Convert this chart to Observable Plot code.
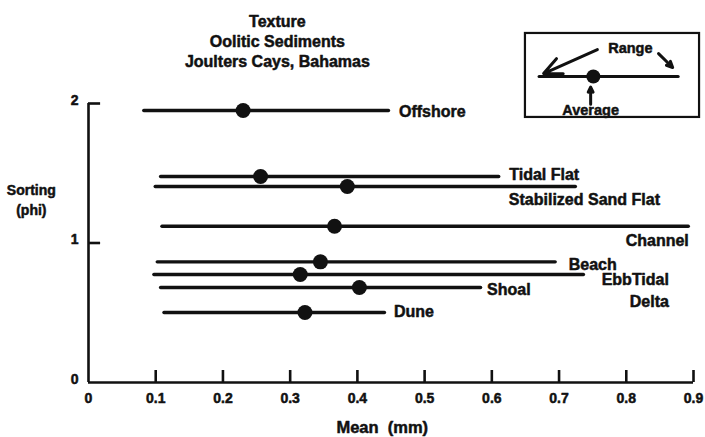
<!DOCTYPE html>
<html>
<head>
<meta charset="utf-8">
<script src="https://cdn.jsdelivr.net/npm/d3@7"></script>
<script src="https://cdn.jsdelivr.net/npm/@observablehq/plot@0.6"></script>
<style>
  html, body { margin: 0; padding: 0; background: #fff; }
</style>
</head>
<body>
<div id="chart"></div>
<script>
// ---- data ----
const sites    = ["Offshore", "Tidal Flat", "Stabilized Sand Flat", "Channel", "Beach", "EbbTidal\nDelta", "Shoal", "Dune"];
const sorting  = [1.95, 1.477, 1.405, 1.12, 0.865, 0.774, 0.681, 0.502];
const meanMin  = [0.083, 0.108, 0.100, 0.110, 0.103, 0.098, 0.108, 0.113];
const meanMax  = [0.447, 0.611, 0.725, 0.893, 0.695, 0.737, 0.584, 0.441];
const meanAvg  = [0.230, 0.256, 0.385, 0.366, 0.345, 0.315, 0.403, 0.322];

const xTicks = [0, 0.1, 0.2, 0.3, 0.4, 0.5, 0.6, 0.7, 0.8, 0.9];
const xTickLabels = ["0", "0.1", "0.2", "0.3", "0.4", "0.5", "0.6", "0.7", "0.8", "0.9"];
const yTicks = [0, 1, 2];
const yTickLabels = ["0", "1", "2"];

const titleText = "Texture\nOolitic Sediments\nJoulters Cays, Bahamas";
const xLabel = "Mean\u00a0 (mm)";
const yLabel = "Sorting\n(phi)";

// ---- label placement (style, per site) ----
const labelStyle = [
  {dx: 10, dy: -1, anchor: "start"},
  {dx: 10, dy: -4, anchor: "start"},
  {dx: -67, dy: 11, anchor: "start"},
  {dx: 0, dy: 13, anchor: "end"},
  {dx: 13, dy: 1, anchor: "start"},
  {dx: 85, dy: 14, anchor: "end"},
  {dx: 6, dy: 0, anchor: "start"},
  {dx: 9, dy: -3, anchor: "start"}
];

const rows = sites.map((s, i) => ({
  site: s, sorting: sorting[i], min: meanMin[i], max: meanMax[i], avg: meanAvg[i], ...labelStyle[i]
}));

const font = "'Liberation Sans', Arial, Helvetica, sans-serif";
const ink = "#111";
const heavy = {fontWeight: "bold", fill: ink, stroke: ink, strokeWidth: 0.5};

const labelMarks = rows.map(r => Plot.text([r], {
  x: "max", y: "sorting", text: "site",
  dx: r.dx, dy: r.dy, textAnchor: r.anchor,
  fontSize: 16, lineHeight: 1.38, ...heavy
}));

const chart = Plot.plot({
  width: 705,
  height: 437,
  marginLeft: 88,
  marginRight: 12,
  marginTop: 103,
  marginBottom: 55,
  x: {domain: [0, 0.9], axis: null},
  y: {domain: [0, 2], axis: null},
  style: {fontFamily: font, fontWeight: "bold", background: "#fff", color: ink},
  marks: [
    // axes
    Plot.ruleX([0], {y1: 0, y2: 2, stroke: ink, strokeWidth: 2.6}),
    Plot.ruleY([0], {x1: 0, x2: 0.9, stroke: ink, strokeWidth: 2.6}),
    Plot.ruleX(xTicks.slice(1), {x: d => d, y1: 0, y2: 0.086, stroke: ink, strokeWidth: 2.6}),
    Plot.ruleY(yTicks.slice(1), {y: d => d, x1: 0, x2: 0.018, stroke: ink, strokeWidth: 2.6}),
    Plot.text(xTicks, {x: d => d, y: 0, dy: 16, text: (d, i) => xTickLabels[i], fontSize: 14, ...heavy}),
    Plot.text(yTicks, {x: 0, y: d => d, dx: -10, dy: -3, text: (d, i) => yTickLabels[i], textAnchor: "end", fontSize: 14, ...heavy}),
    // axis titles and chart title
    Plot.text([xLabel], {x: 0.437, y: -0.323, text: d => d, fontSize: 16.5, ...heavy}),
    Plot.text([yLabel], {x: -0.085, y: 1.32, text: d => d, fontSize: 14, lineHeight: 1.43, ...heavy}),
    Plot.text([titleText], {x: 0.281, y: 2.452, text: d => d, fontSize: 16, lineHeight: 1.25, ...heavy}),
    // range lines and averages
    Plot.ruleY(rows, {y: "sorting", x1: "min", x2: "max", stroke: ink, strokeWidth: 3.4, strokeLinecap: "round"}),
    Plot.dot(rows, {x: "avg", y: "sorting", r: 7.5, fill: ink, stroke: "none"}),
    ...labelMarks,
    // key box
    Plot.rect([0], {x1: 0.650, x2: 0.909, y1: 1.90, y2: 2.502, fill: "none", stroke: ink, strokeWidth: 2.2}),
    Plot.ruleY([0], {y: 2.194, x1: 0.671, x2: 0.878, stroke: ink, strokeWidth: 3, strokeLinecap: "round"}),
    Plot.dot([0], {x: 0.751, y: 2.194, r: 7, fill: ink}),
    Plot.arrow([0], {x1: 0.757, y1: 2.387, x2: 0.677, y2: 2.215, stroke: ink, strokeWidth: 3, headLength: 11, headAngle: 50}),
    Plot.arrow([0], {x1: 0.848, y1: 2.358, x2: 0.869, y2: 2.258, stroke: ink, strokeWidth: 3, headLength: 10, headAngle: 50}),
    Plot.arrow([0], {x1: 0.747, y1: 1.995, x2: 0.747, y2: 2.118, stroke: ink, strokeWidth: 3, headLength: 10, headAngle: 50}),
    Plot.text(["Range"], {x: 0.806, y: 2.394, text: d => d, fontSize: 14.5, ...heavy}),
    Plot.text(["Average"], {x: 0.747, y: 1.95, text: d => d, fontSize: 14.5, ...heavy})
  ]
});

document.getElementById("chart").appendChild(chart);
</script>
</body>
</html>
